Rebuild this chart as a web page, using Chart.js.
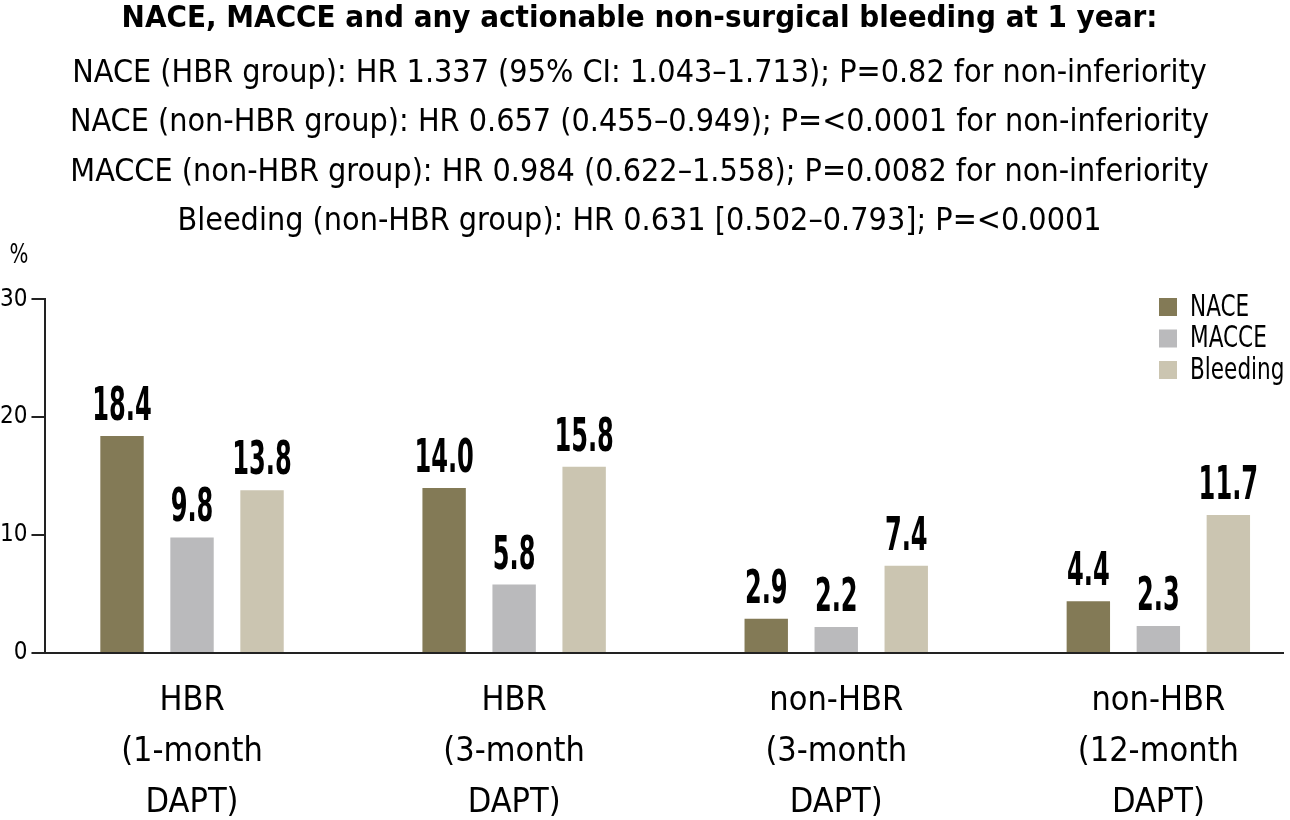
<!DOCTYPE html>
<html><head><meta charset="utf-8">
<script src="https://cdn.jsdelivr.net/npm/chart.js@4.4.1/dist/chart.umd.min.js"></script>
<style>html,body{margin:0;padding:0;background:#fff;overflow:hidden;width:1290px;height:820px;}#wrap{width:1290px;height:852px;position:relative;}</style>
</head><body><div id="wrap"><canvas id="c"></canvas></div>
<script>
const categories = [["HBR","(1-month","DAPT)"],["HBR","(3-month","DAPT)"],["non-HBR","(3-month","DAPT)"],["non-HBR","(12-month","DAPT)"]];
const seriesNames = ["NACE","MACCE","Bleeding"];
const naceValues = [18.4, 14.0, 2.9, 4.4];
const macceValues = [9.8, 5.8, 2.2, 2.3];
const bleedingValues = [13.8, 15.8, 7.4, 11.7];
const yTickValues = [0, 10, 20, 30];
const unitLabel = "%";
const titleText = "NACE, MACCE and any actionable non-surgical bleeding at 1 year:";
const subtitleLines = [
  "NACE (HBR group): HR 1.337 (95% CI: 1.043\u20131.713); P=0.82 for non-inferiority",
  "NACE (non-HBR group): HR 0.657 (0.455\u20130.949); P=<0.0001 for non-inferiority",
  "MACCE (non-HBR group): HR 0.984 (0.622\u20131.558); P=0.0082 for non-inferiority",
  "Bleeding (non-HBR group): HR 0.631 [0.502\u20130.793]; P=<0.0001"
];
const seriesColors = ["#837a56", "#bababc", "#cbc5b1"];

const FF = "'DejaVu Sans Condensed','Liberation Sans Narrow',sans-serif";
const allSeries = [naceValues, macceValues, bleedingValues];

const datasets = allSeries.map((vals, s) => ({
  label: seriesNames[s],
  data: vals.map((v, i) => ({x: i, y: v})),
  backgroundColor: seriesColors[s],
  borderWidth: 0,
  categoryPercentage: 0.652,
  barPercentage: 0.62
}));

function condensedText(ctx, txt, x, y, sx) {
  ctx.save();
  ctx.translate(x, y);
  ctx.scale(sx, 1);
  ctx.fillText(txt, 0, 0);
  ctx.restore();
}

const extrasPlugin = {
  id: 'extras',
  afterDatasetsDraw(chart) {
    const ctx = chart.ctx;
    ctx.save();
    ctx.fillStyle = '#000';
    ctx.textAlign = 'center';
    ctx.textBaseline = 'alphabetic';
    ctx.font = "bold 47px " + FF;
    chart.data.datasets.forEach((ds, di) => {
      const meta = chart.getDatasetMeta(di);
      meta.data.forEach((bar, i) => {
        condensedText(ctx, ds.data[i].y.toFixed(1), bar.x, bar.y - 16, 0.57);
      });
    });
    ctx.restore();
    // legend
    ctx.save();
    const lx = chart.chartArea.right - 124, ly0 = 298;
    ctx.font = "30px " + FF;
    ctx.textBaseline = 'middle';
    ctx.textAlign = 'left';
    chart.data.datasets.forEach((ds, di) => {
      const cy = ly0 + 9 + di * 31.5;
      ctx.fillStyle = ds.backgroundColor;
      ctx.fillRect(lx, cy - 9, 18, 18);
      ctx.fillStyle = '#000';
      condensedText(ctx, ds.label, lx + 31, cy + 1, 0.8);
    });
    ctx.font = "26px " + FF;
    ctx.textAlign = 'center';
    condensedText(ctx, unitLabel, 19, 256, 0.85);
    ctx.restore();
  }
};

new Chart(document.getElementById('c'), {
  type: 'bar',
  data: { datasets },
  plugins: [extrasPlugin],
  options: {
    responsive: true,
    maintainAspectRatio: false,
    animation: false,
    layout: { padding: { left: -4, right: 7, top: 0, bottom: 0 } },
    plugins: {
      legend: { display: false },
      tooltip: { enabled: false },
      title: {
        display: true, text: titleText, color: '#000',
        font: { family: FF, size: 31, weight: 'bold', lineHeight: 1.2 },
        padding: { top: 0, bottom: 12 }
      },
      subtitle: {
        display: true, text: subtitleLines, color: '#000',
        font: { family: FF, size: 32, weight: 'normal', lineHeight: 1.54 },
        padding: { top: 0, bottom: 53 }
      }
    },
    scales: {
      x: {
        type: 'linear',
        offset: false,
        min: -0.455, max: 3.387,
        afterBuildTicks(scale) { scale.ticks = categories.map((c, i) => ({ value: i })); },
        grid: { display: false, drawTicks: false, offset: false },
        border: { display: true, color: '#222', width: 2 },
        ticks: {
          autoSkip: false, maxRotation: 0, minRotation: 0, padding: 23, color: '#000',
          font: { family: FF, size: 34, lineHeight: 1.5 },
          callback: (v) => categories[v] || ''
        }
      },
      y: {
        min: 0, max: 30,
        afterBuildTicks(scale) { scale.ticks = yTickValues.map(v => ({ value: v })); },
        grid: { display: true, drawOnChartArea: false, drawTicks: true, tickLength: 14, color: '#222', lineWidth: 2 },
        border: { display: true, color: '#222', width: 2 },
        ticks: { padding: 4, color: '#000', font: { family: FF, size: 24 } }
      }
    }
  }
});
</script></body></html>
